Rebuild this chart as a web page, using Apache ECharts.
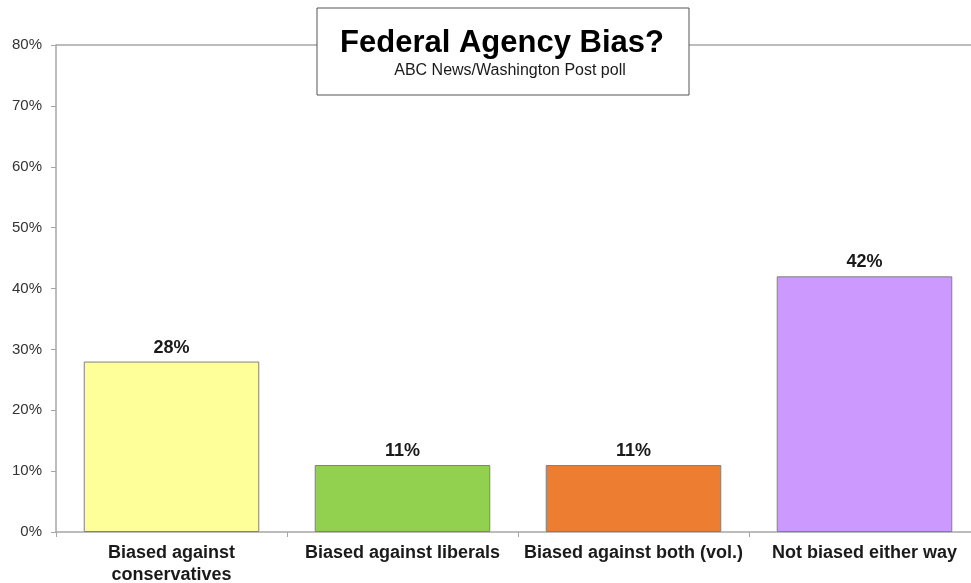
<!DOCTYPE html>
<html>
<head>
<meta charset="utf-8">
<script src="https://cdn.jsdelivr.net/npm/echarts@6/dist/echarts.min.js"></script>
<style>
html,body{margin:0;padding:0;background:#fff;}
#chart{width:971px;height:583px;}
</style>
</head>
<body>
<div id="chart"></div>
<script>
const categories = ['Biased against\nconservatives', 'Biased against liberals', 'Biased against both (vol.)', 'Not biased either way'];
const values = [28, 11, 11, 42];
const barColors = ['#FFFF99', '#92D050', '#ED7D31', '#CC99FF'];
const yTicks = [0, 10, 20, 30, 40, 50, 60, 70, 80];
const titleText = 'Federal Agency Bias?';
const subtitleText = 'ABC News/Washington Post poll';

const chart = echarts.init(document.getElementById('chart'));
const FONT = '"Liberation Sans", Arial, sans-serif';
chart.setOption({
  backgroundColor: '#fff',
  animation: false,
  grid: { left: 56, width: 924, top: 45, bottom: 51, containLabel: false, outerBoundsMode: 'none' },
  xAxis: {
    type: 'category',
    data: categories,
    axisLine: { show: true, lineStyle: { color: '#a6a6a6', width: 1.5 } },
    axisTick: { show: true, alignWithLabel: false, length: 5, lineStyle: { color: '#a6a6a6' } },
    axisLabel: {
      interval: 0, margin: 10, color: '#1a1a1a',
      fontFamily: FONT, fontSize: 18, fontWeight: 'bold', lineHeight: 22
    }
  },
  yAxis: {
    type: 'value',
    min: yTicks[0], max: yTicks[yTicks.length - 1], interval: 10,
    axisLine: { show: true, lineStyle: { color: '#a6a6a6', width: 1.5 } },
    axisTick: { show: true, length: 5, lineStyle: { color: '#a6a6a6' } },
    axisLabel: { formatter: v => v + '%', margin: 14, color: '#333', fontFamily: FONT, fontSize: 15 },
    splitLine: {
      show: true,
      lineStyle: { color: ['transparent','transparent','transparent','transparent','transparent','transparent','transparent','transparent','#a6a6a6'], width: 1.5 }
    }
  },
  series: [{
    type: 'bar',
    barWidth: '76%',
    data: values.map((v, i) => ({ value: v, itemStyle: { color: barColors[i] } })),
    itemStyle: { borderColor: '#808080', borderWidth: 1 },
    label: {
      show: true, position: 'top', distance: 5,
      formatter: p => p.value + '%',
      color: '#1a1a1a', fontFamily: FONT, fontSize: 18, fontWeight: 'bold'
    }
  }],
  graphic: [
    { type: 'rect', z: 100, shape: { x: 317, y: 8, width: 372, height: 87 },
      style: { fill: '#fff', stroke: '#555', lineWidth: 1 } },
    { type: 'text', z: 101, x: 502, y: 43,
      style: { text: titleText, fill: '#000', font: 'bold 31px ' + FONT, textAlign: 'center', textVerticalAlign: 'middle' } },
    { type: 'text', z: 101, x: 510, y: 71,
      style: { text: subtitleText, fill: '#1a1a1a', font: '16px ' + FONT, textAlign: 'center', textVerticalAlign: 'middle' } }
  ]
});
</script>
</body>
</html>
